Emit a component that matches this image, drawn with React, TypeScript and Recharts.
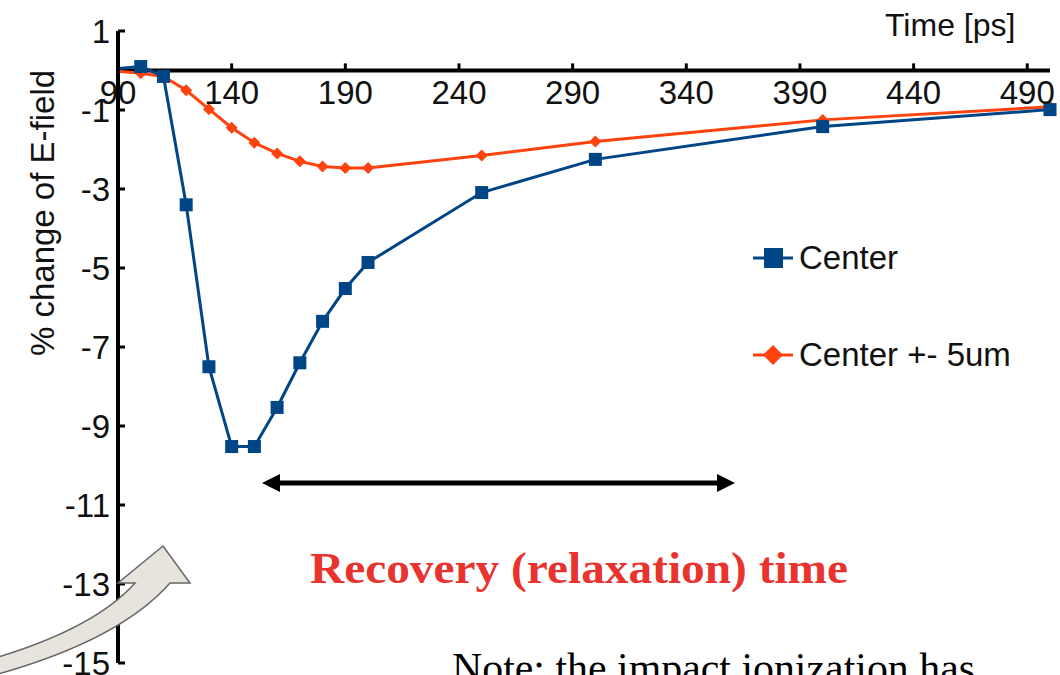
import React from "react"
import { LineChart, Line, XAxis, YAxis, ReferenceLine, ReferenceDot, Legend } from "recharts"

// time in ps
const times = [90, 100, 110, 120, 130, 140, 150, 160, 170, 180, 190, 200, 250, 300, 400, 500]
// % change of E-field
const center = [0.05, 0.1, -0.15, -3.4, -7.5, -9.52, -9.52, -8.53, -7.4, -6.35, -5.52, -4.86, -3.09, -2.25, -1.42, -0.99]
const centerSide = [-0.02, -0.07, -0.15, -0.5, -0.98, -1.45, -1.83, -2.1, -2.3, -2.43, -2.47, -2.47, -2.15, -1.8, -1.25, -0.92]

const xTicks = [90, 140, 190, 240, 290, 340, 390, 440, 490]
const yTicks = [1, -1, -3, -5, -7, -9, -11, -13, -15]

const seriesNames = ["Center", "Center +- 5um"]

const BLUE = "#004586"
const ORANGE = "#ff420e"
const INK = "#111"

const data = times.map((t, i) => ({ t, center: center[i], side: centerSide[i] }))

const SquareDot = (p: any) => {
  if (p.index === 0) return <g key={`sq-${p.index}`} />
  return <rect key={`sq-${p.index}`} x={p.cx - 6.5} y={p.cy - 6.5} width={13} height={13} fill={BLUE} />
}

const DiamondDot = (p: any) => {
  if (p.index === 0) return <g key={`dm-${p.index}`} />
  const r = 6
  return (
    <polygon
      key={`dm-${p.index}`}
      points={`${p.cx},${p.cy - r} ${p.cx + r},${p.cy} ${p.cx},${p.cy + r} ${p.cx - r},${p.cy}`}
      fill={ORANGE}
    />
  )
}

const renderLegend = ({ payload }: any) => (
  <div>
    {(payload || []).map((entry: any, i: number) => (
      <div key={entry.value} style={{ display: "flex", alignItems: "center", height: 40, marginBottom: 57 }}>
        <svg width={42} height={24} style={{ overflow: "visible" }}>
          <line x1={0} y1={12} x2={40} y2={12} stroke={entry.color} strokeWidth={3} />
          {entry.dataKey === "center" ? (
            <rect x={11} y={2} width={19} height={20} fill={entry.color} />
          ) : (
            <polygon points="20,2 30,12 20,22 10,12" fill={entry.color} />
          )}
        </svg>
        <span style={{ fontSize: 33, color: INK, marginLeft: 4 }}>{entry.value}</span>
      </div>
    ))}
  </div>
)

export default function App() {
  return (
    <div style={{ position: "absolute", left: 0, top: 0, width: 1060, height: 675, background: "#fff", fontFamily: "'Liberation Sans', Arial, sans-serif", overflow: "hidden" }}>
      <LineChart width={1060} height={675} data={data} margin={{ top: 31, right: 10, bottom: 12, left: 48 }}>
        <XAxis type="number" dataKey="t" domain={[90, 500]} hide />
        <YAxis
          type="number"
          domain={[-15, 1]}
          ticks={yTicks}
          interval={0}
          width={70}
          axisLine={{ stroke: "#000", strokeWidth: 4 }}
          tickLine={{ stroke: "#000", strokeWidth: 3 }}
          tickSize={-7}
          tickMargin={15}
          tick={{ fill: INK, fontSize: 33 }}
        />
        <ReferenceLine y={0} stroke="#000" strokeWidth={4} />
        {xTicks.slice(1).map((v) => (
          <ReferenceLine key={`xt-${v}`} segment={[{ x: v, y: 0 }, { x: v, y: 0.18 }]} stroke="#000" strokeWidth={3} />
        ))}
        {xTicks.map((v) => (
          <ReferenceDot
            key={`xl-${v}`}
            x={v}
            y={0}
            r={0}
            fill="none"
            stroke="none"
            label={{ value: String(v), position: "bottom", offset: 10, fontSize: 33, fill: INK }}
          />
        ))}
        <Line
          type="linear"
          dataKey="side"
          name={seriesNames[1]}
          stroke={ORANGE}
          strokeWidth={3}
          dot={DiamondDot}
          isAnimationActive={false}
        />
        <Line
          type="linear"
          dataKey="center"
          name={seriesNames[0]}
          stroke={BLUE}
          strokeWidth={3}
          dot={SquareDot}
          isAnimationActive={false}
        />
        <Legend
          layout="horizontal"
          verticalAlign="middle"
          align="center"
          content={renderLegend}
          wrapperStyle={{ left: 753, top: 238, width: 300 }}
        />
      </LineChart>

      <svg width={1060} height={675} style={{ position: "absolute", left: 0, top: 0, pointerEvents: "none" }}>
        <text x={885} y={36} fontSize={32} fill={INK} fontFamily="'Liberation Sans', Arial, sans-serif">
          Time [ps]
        </text>
        <text
          transform="translate(54, 213) rotate(-90)"
          textAnchor="middle"
          fontSize={33}
          fill={INK}
          fontFamily="'Liberation Sans', Arial, sans-serif"
        >
          % change of E-field
        </text>

        {/* double arrow */}
        <line x1={276} y1={483} x2={721} y2={483} stroke="#000" strokeWidth={5} />
        <polygon points="262,483 280,474 280,492" fill="#000" />
        <polygon points="735,483 717,474 717,492" fill="#000" />

        <text
          x={310}
          y={583}
          fontSize={45}
          fontWeight="bold"
          fill="#e8332f"
          fontFamily="'Liberation Serif', 'Times New Roman', serif"
          textLength={538}
          lengthAdjust="spacingAndGlyphs"
        >
          Recovery (relaxation) time
        </text>

        <text
          x={452}
          y={682}
          fontSize={42}
          fill="#000"
          fontFamily="'Liberation Serif', 'Times New Roman', serif"
          textLength={523}
          lengthAdjust="spacingAndGlyphs"
        >
          Note: the impact ionization has
        </text>

        {/* curved callout arrow */}
        <path
          d="M -5 658 Q 95 628 135 583 L 118 583 L 163 546 L 190 583 L 170 583 Q 120 640 -5 675 Z"
          fill="#e7e3dd"
          stroke="#666"
          strokeWidth={1.5}
          strokeLinejoin="miter"
        />
      </svg>
    </div>
  )
}
